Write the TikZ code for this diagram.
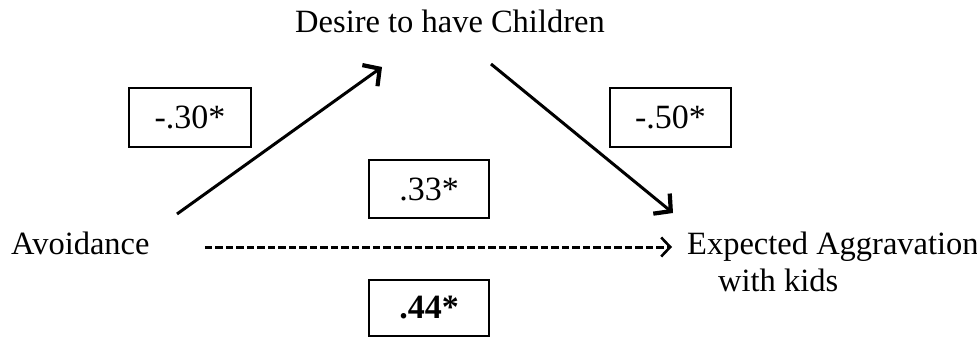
\documentclass[tikz,border=0pt]{standalone}
\usepackage{fontspec}
\setmainfont{Liberation Serif}
\newfontfamily\numfont{Liberation Serif}
\usetikzlibrary{arrows.meta}
\begin{document}
\begin{tikzpicture}[x=1pt,y=-1pt,
  lbl/.style={font=\fontsize{32.5}{37}\selectfont, inner sep=0pt},
  boxframe/.style={line width=1.8pt},
  coef/.style={inner sep=0pt, font=\numfont\fontsize{34}{36}\selectfont},
  conn/.style={line width=3pt, -{Straight Barb[length=12pt,width=26pt,line width=4.2pt]}}
]
\useasboundingbox (0,0) rectangle (977,340);
\node[lbl, anchor=base] (desire) at (450,32) {Desire to have Children};
\node[lbl, anchor=base west] (avoid) at (11,254) {Avoidance};
\node[lbl, anchor=base west] (agg) at (687,254) {Expected Aggravation};
\node[lbl, anchor=base west] (kids) at (718,291) {with kids};
\coordinate (a1) at (177,214);
\coordinate (a2) at (382,67);
\coordinate (b1) at (491,64);
\coordinate (b2) at (673,213);
\draw[conn] (a1) -- (a2);
\draw[conn] (b1) -- (b2);
\draw[line width=3pt, dash pattern=on 7.5pt off 3pt, -{Straight Barb[length=9pt,width=19pt,line width=2.6pt]}]
  ([xshift=55pt,yshift=7pt]avoid.base east) -- ([xshift=-15pt,yshift=7pt]agg.base west);
\draw[boxframe] (129,88) rectangle (251,147) node[coef, pos=0.5] (p30) {-.30*};
\draw[boxframe] (610,88) rectangle (731,147) node[coef, pos=0.5] (p50) {-.50*};
\draw[boxframe] (369,160) rectangle (489,218) node[coef, pos=0.5] (p33) {.33*};
\draw[boxframe] (369,280) rectangle (489,336) node[coef, pos=0.5] (p44) {\bfseries .44*};
\end{tikzpicture}
\end{document}
